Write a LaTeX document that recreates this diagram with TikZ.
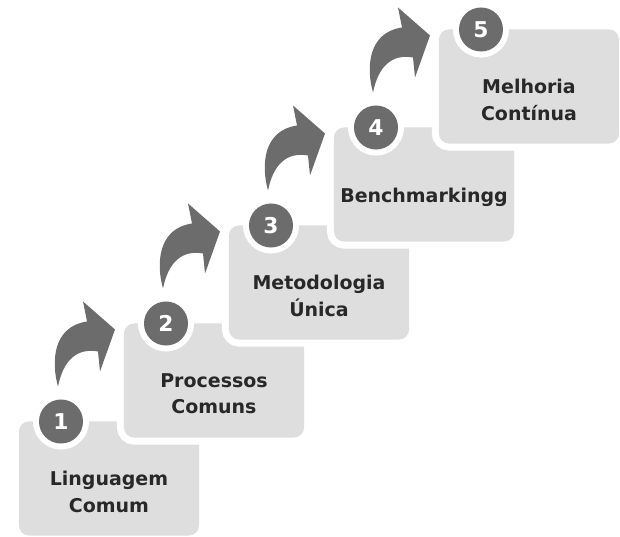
\documentclass[tikz,border=0pt]{standalone}
\usepackage{fontspec}
\setsansfont{DejaVu Sans}
\definecolor{stepgray}{RGB}{222,222,222}
\definecolor{numbergray}{RGB}{108,108,108}
\definecolor{labelgray}{RGB}{40,40,40}

\begin{document}
\begin{tikzpicture}[x=0.025cm,y=-0.025cm,
    stepbox/.style={fill=stepgray,rounded corners=0.25cm,
      minimum width=4.5cm,minimum height=2.85cm,inner sep=0pt,
      preaction={draw=white,line width=0.35cm}},
    steplabel/.style={align=center,text=labelgray,
      font=\sffamily\bfseries\fontsize{13.5}{19}\selectfont},
    stepnumber/.style={circle,fill=numbergray,minimum size=1.1cm,
      inner sep=0pt,text=white,
      font=\sffamily\bfseries\fontsize{15.5}{16}\selectfont,
      preaction={draw=white,line width=0.3cm}},
    steparrow/.pic={
      \fill[numbergray] (-3,-35) .. controls (-10,-60) and (-8,-95) .. (26,-100)
        -- (22,-120) -- (54,-92) -- (39,-50) -- (37,-70)
        .. controls (15,-74) and (2,-60) .. cycle;}]
    \useasboundingbox (0,0) rectangle (620,537);
    % step 1
    \node[stepbox] (box1) at (109,478.5) {};
    \node[stepnumber] (number1) at (61,421.5) {1};
    \node[steplabel] (label1) at ([yshift=-0.33cm]box1.center)
      {Linguagem\\Comum};
    \pic at (number1) {steparrow};
    % step 2
    \node[stepbox] (box2) at (214,380.5) {};
    \node[stepnumber] (number2) at (166,323.5) {2};
    \node[steplabel] (label2) at ([yshift=-0.33cm]box2.center)
      {Processos\\Comuns};
    \pic at (number2) {steparrow};
    % step 3
    \node[stepbox] (box3) at (319,282.5) {};
    \node[stepnumber] (number3) at (271,225.5) {3};
    \node[steplabel] (label3) at ([yshift=-0.33cm]box3.center)
      {Metodologia\\Única};
    \pic at (number3) {steparrow};
    % step 4
    \node[stepbox] (box4) at (424,184.5) {};
    \node[stepnumber] (number4) at (376,127.5) {4};
    \node[steplabel] (label4) at ([yshift=-0.33cm]box4.center)
      {Benchmarkingg};
    \pic at (number4) {steparrow};
    % step 5
    \node[stepbox] (box5) at (529,86.5) {};
    \node[stepnumber] (number5) at (481,29.5) {5};
    \node[steplabel] (label5) at ([yshift=-0.33cm]box5.center)
      {Melhoria\\Contínua};
  \end{tikzpicture}
\end{document}
